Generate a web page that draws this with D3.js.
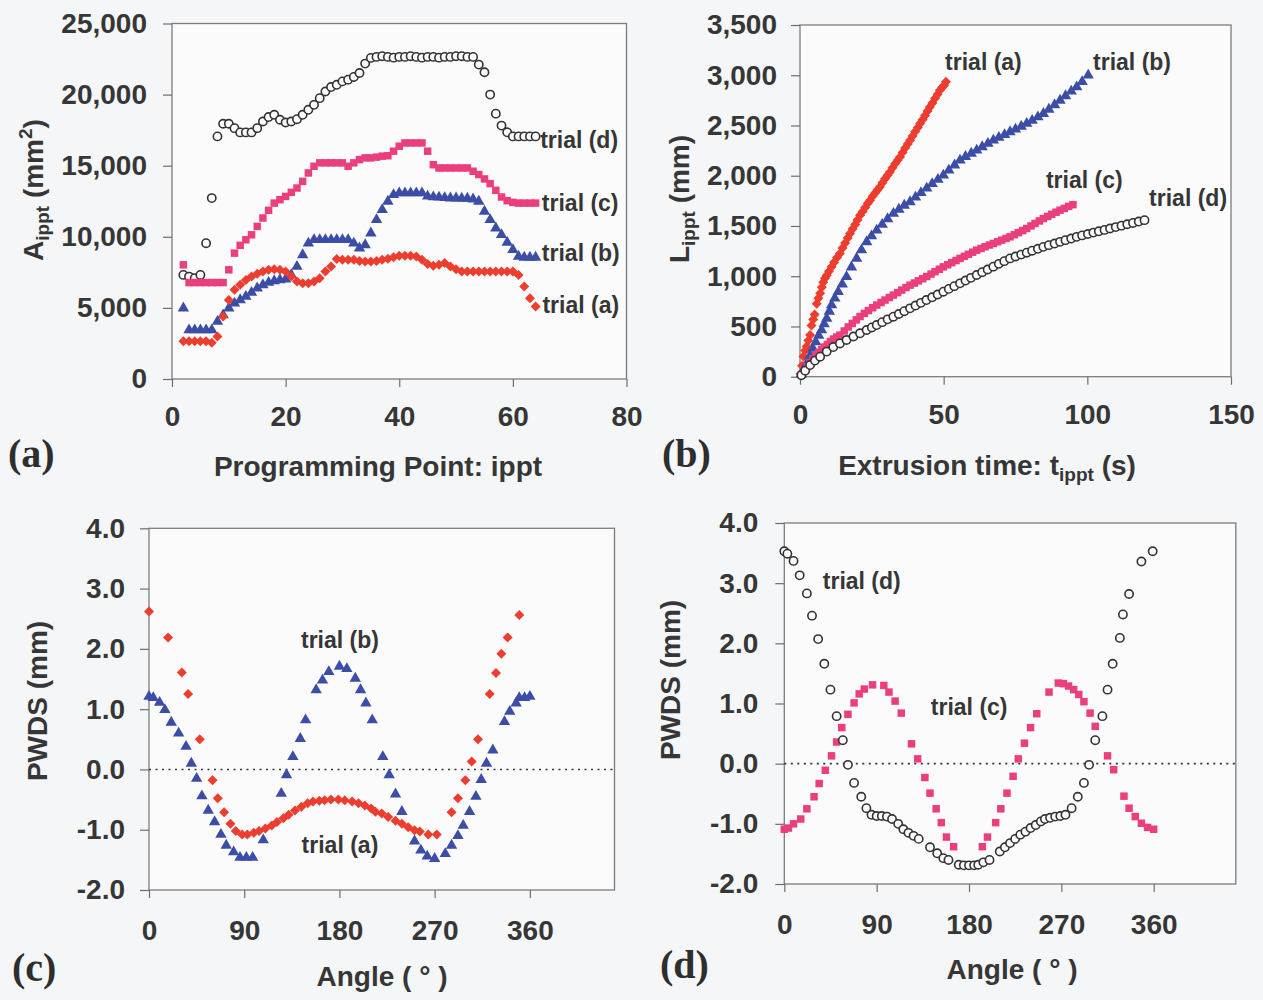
<!DOCTYPE html>
<html>
<head>
<meta charset="utf-8">
<script src="https://cdnjs.cloudflare.com/ajax/libs/d3/7.8.5/d3.min.js"></script>
<style>
  body { margin: 0; background: #f5f6f8; }
  svg { display: block; font-family: "Liberation Sans", Arial, sans-serif; }
</style>
</head>
<body>
<div id="chart"></div>
<script>
// ---- panel (a): area vs programming point ----
const ippt = [2,3,4,5,6,7,8,9,10,11,12,13,14,15,16,17,18,19,20,21,22,23,24,25,26,27,28,29,30,31,32,33,
  34,35,36,37,38,39,40,41,42,43,44,45,46,47,48,49,50,51,52,53,54,55,56,57,58,59,60,61,62,63,64];
const areaA = [2650,2650,2650,2650,2650,2550,2980,4400,5560,6270,6620,6970,7200,7400,7560,7680,7720,7680,
  7560,7200,6850,6740,6740,6850,7090,7560,7910,8430,8380,8380,8380,8300,8260,8260,8300,8380,8450,8570,
  8660,8660,8660,8620,8380,8080,7960,8030,8150,7910,7720,7560,7560,7560,7560,7560,7560,7560,7560,7560,
  7560,7320,6500,5680,5090];
const areaB = [4980,3450,3450,3450,3450,3450,4040,4500,4980,5330,5560,5800,6080,6390,6620,6780,6900,6970,
  7020,7320,7910,8730,9550,9790,9790,9790,9790,9790,9790,9790,9550,9200,9430,10260,11200,11900,12490,
  12960,13080,13080,13080,13080,13080,12850,12800,12780,12750,12720,12720,12700,12700,12650,12490,11790,
  11200,10610,10140,9600,9090,8620,8550,8550,8550];
const areaC = [8030,6780,6780,6780,6780,6780,6780,6780,7680,8850,9400,9790,10140,10730,11320,11860,12370,
  12610,12840,13130,13430,13900,14490,14960,15200,15200,15200,15200,15200,14960,15200,15430,15550,15550,
  15600,15670,15700,16020,16370,16600,16600,16600,16600,16020,15070,14840,14840,14840,14840,14840,14840,
  14610,14380,14070,13740,13270,12800,12540,12420,12370,12370,12370,12370];
const areaD = [7320,7200,7090,7320,9550,12720,17060,17950,17950,17640,17340,17340,17340,17640,18110,18420,
  18580,18230,18040,18110,18270,18580,18930,19280,19750,20220,20530,20690,20930,21050,21240,21520,22180,
  22580,22650,22700,22650,22600,22650,22650,22700,22650,22600,22650,22650,22600,22650,22650,22700,22700,
  22650,22650,22110,21570,20000,18660,17820,17350,17060,17060,17060,17060,17060];

// ---- panel (b): length vs extrusion time ----
const timeA = [0.2,0.7,1.2,1.8,2.3,2.9,3.5,4.0,4.6,5.1,5.8,6.4,7.0,7.6,8.1,8.7,9.3,10.1,11.0,11.9,12.9,13.9,
  14.8,15.7,16.6,17.4,18.3,19.2,20.0,20.9,21.8,22.7,23.6,24.4,25.3,26.2,27.0,27.8,28.7,29.6,30.5,31.3,32.2,
  33.1,34.0,34.8,35.7,36.6,37.5,38.3,39.2,40.1,41.0,41.8,42.7,43.5,44.4,45.2,46.1,47.0,47.9,48.7,49.5,50.2,50.8];
const lenA = [30,110,200,260,300,360,414,510,570,620,725,780,830,890,940,980,1010,1050,1094,1140,1185,1227,
  1280,1330,1380,1425,1470,1515,1560,1607,1645,1685,1725,1756,1795,1830,1860,1889,1930,1970,2005,2038,2080,
  2120,2155,2187,2230,2275,2315,2353,2395,2440,2480,2519,2560,2600,2645,2684,2725,2770,2810,2850,2880,2900,2935];
const timeB = [0.5,1.5,2.5,3.5,4.5,5.5,6.5,7.5,8.4,9.3,10.2,11.0,12.1,13.3,14.7,16.2,17.9,19.7,21.4,23.2,24.9,
  26.7,28.6,30.5,32.5,34.4,36.3,38.3,40.2,42.1,44.1,46.0,48.0,49.9,51.8,53.8,55.7,57.6,59.6,61.5,63.4,65.4,
  67.3,69.2,71.2,73.1,75.0,77.0,78.9,80.8,82.8,84.7,86.6,88.6,90.5,92.4,94.4,96.3,98.2,100.3];
const lenB = [25,80,140,210,280,345,410,464,525,580,650,713,780,845,920,994,1090,1177,1260,1342,1400,1458,
  1515,1570,1624,1665,1705,1740,1785,1830,1875,1920,1962,2005,2055,2105,2154,2190,2222,2253,2287,2320,2353,
  2380,2408,2436,2463,2491,2519,2550,2584,2618,2660,2705,2750,2795,2840,2883,2935,3000];
const timeC = [0.5,1.5,2.5,3.5,4.5,5.5,6.5,7.5,8.5,9.5,10.6,11.7,12.8,13.9,15.4,16.8,18.2,19.6,20.9,22.4,23.8,
  25.3,26.7,28.2,29.6,31.1,32.5,34.0,35.4,36.9,38.3,39.8,41.2,42.7,44.1,45.6,47.0,48.5,49.9,51.4,52.8,54.3,
  55.7,57.2,58.6,60.1,61.5,63.0,64.4,65.9,67.3,68.8,70.2,71.7,73.1,74.6,76.0,77.5,78.9,80.4,81.8,83.3,84.7,
  86.2,87.6,89.1,90.5,92.0,93.5,95.0];
const lenC = [20,60,100,140,175,210,240,270,295,320,350,375,395,414,455,495,530,565,599,630,658,686,713,738,
  763,788,812,837,862,887,911,932,954,975,997,1021,1045,1069,1093,1114,1135,1156,1177,1198,1218,1239,1259,
  1276,1293,1310,1326,1343,1359,1376,1392,1413,1434,1454,1475,1500,1525,1550,1574,1595,1616,1637,1657,1675,
  1695,1712];
const timeD = [0.5,1.8,3.5,5.2,7.0,9.3,11.6,13.9,16.2,18.6,20.9,23.2,25.0,26.7,28.6,30.5,32.5,34.4,36.3,38.3,
  40.2,42.1,44.0,46.0,47.9,49.9,51.8,53.7,55.7,57.6,59.5,61.5,63.4,65.3,67.3,69.2,71.1,73.1,75.0,77.0,78.9,
  80.8,82.8,84.7,86.6,88.6,90.5,92.4,94.4,96.3,98.2,100.2,102.1,104.0,106.0,107.9,109.9,111.9,113.9,115.9,
  117.9,119.9];
const lenD = [15,60,116,160,199,250,295,331,365,400,432,465,490,514,543,571,597,624,652,680,708,735,763,790,
  818,846,874,901,929,957,984,1012,1040,1067,1095,1123,1150,1177,1196,1215,1234,1254,1273,1292,1309,1325,
  1342,1359,1375,1392,1406,1420,1434,1447,1461,1475,1489,1503,1517,1530,1544,1558];

// ---- panel (c): PWDS, trials a and b ----
const angC_a = [0,18,31,37,48,60,65,71,77,82,88,93,99,104,110,116,121,127,132,138,144,150,155,161,166,172,179,
  185,192,198,204,210,214,220,226,233,239,245,251,256,264,272,286,292,299,305,311,322,328,333,339,350];
const pwdsC_a = [2.62,2.19,1.61,1.25,0.50,-0.18,-0.48,-0.71,-0.90,-1.02,-1.08,-1.08,-1.05,-1.02,-0.98,-0.93,
  -0.87,-0.81,-0.75,-0.68,-0.62,-0.56,-0.53,-0.52,-0.51,-0.50,-0.50,-0.51,-0.53,-0.56,-0.60,-0.65,-0.70,-0.73,
  -0.79,-0.85,-0.90,-0.96,-1.01,-1.03,-1.08,-1.08,-0.71,-0.48,-0.18,0.13,0.50,1.25,1.60,1.92,2.19,2.56];
const angC_b = [0,4,10,15,21,28,35,40,45,50,56,62,68,73,80,86,92,98,108,125,130,136,143,148,158,164,170,180,
  187,195,200,205,211,221,227,233,239,251,257,263,270,280,286,292,297,303,309,314,319,325,336,341,347,350,355,360];
const pwdsC_b = [1.21,1.19,1.11,0.99,0.78,0.60,0.38,0.10,-0.15,-0.44,-0.68,-0.87,-1.08,-1.26,-1.37,-1.46,-1.46,
  -1.46,-1.17,-0.40,-0.09,0.21,0.51,0.82,1.32,1.48,1.62,1.71,1.67,1.51,1.32,1.10,0.82,0.21,-0.09,-0.41,-0.70,
  -1.19,-1.34,-1.44,-1.48,-1.40,-1.26,-1.10,-0.93,-0.70,-0.45,-0.17,0.10,0.32,0.79,0.96,1.10,1.19,1.19,1.21];

// ---- panel (d): PWDS, trials c and d ----
const angD_c = [0,4,9,16,22,29,34,40,46,51,56,62,68,73,78,86,97,102,108,114,124,130,137,142,148,153,158,165,
  193,198,206,211,217,223,228,234,240,246,258,267,272,277,282,287,292,298,303,315,321,331,336,342,348,354,360];
const pwdsD_c = [-1.09,-1.07,-1.00,-0.92,-0.75,-0.55,-0.33,-0.11,0.13,0.36,0.60,0.82,1.01,1.16,1.24,1.31,1.30,
  1.19,1.04,0.84,0.33,0.08,-0.23,-0.49,-0.75,-0.98,-1.22,-1.38,-1.38,-1.22,-0.98,-0.75,-0.49,-0.21,0.08,0.34,
  0.60,0.83,1.19,1.34,1.33,1.29,1.23,1.15,1.03,0.84,0.62,0.13,-0.10,-0.54,-0.74,-0.88,-0.99,-1.06,-1.09];
const angD_d = [0,3,9,15,22,27,33,39,45,51,57,62,68,75,80,85,90,95,100,105,111,116,121,126,131,142,149,155,160,
  170,175,180,185,189,194,200,210,215,220,225,230,235,240,245,250,254,259,264,269,274,280,286,292,297,303,310,
  315,320,327,330,336,348,359];
const pwdsD_d = [3.53,3.49,3.37,3.13,2.83,2.46,2.07,1.66,1.23,0.79,0.39,-0.02,-0.32,-0.55,-0.74,-0.85,-0.87,
  -0.87,-0.88,-0.92,-1.00,-1.09,-1.15,-1.20,-1.25,-1.39,-1.49,-1.57,-1.60,-1.68,-1.69,-1.69,-1.69,-1.68,-1.64,
  -1.60,-1.46,-1.39,-1.32,-1.25,-1.18,-1.13,-1.07,-1.02,-0.96,-0.92,-0.90,-0.88,-0.87,-0.85,-0.74,-0.55,-0.32,
  -0.02,0.39,0.79,1.23,1.66,2.09,2.48,2.82,3.36,3.53];

const ticksA_x = [0,20,40,60,80], ticksA_y = [0,5000,10000,15000,20000,25000];
const ticksB_x = [0,50,100,150], ticksB_y = [0,500,1000,1500,2000,2500,3000,3500];
const ticksAng = [0,90,180,270,360], ticksPwds = [-2,-1,0,1,2,3,4];

const RED = "#ec3d2f", BLUE = "#3c4da6", PINK = "#ea3f7c", INK = "#363636";

const svg = d3.select("#chart").append("svg").attr("width", 1263).attr("height", 1000);
svg.append("rect").attr("width", 1263).attr("height", 1000).attr("fill", "#f5f6f8");

function makePanel(p) {
  const g = svg.append("g").attr("transform", `translate(${p.left},${p.top})`);
  const x = d3.scaleLinear().domain(p.xDomain).range([0, p.w]);
  const y = d3.scaleLinear().domain(p.yDomain).range([p.h, 0]);
  g.append("rect").attr("width", p.w).attr("height", p.h)
    .attr("fill", "#fbfbfc").attr("stroke", "#7c7c7c").attr("stroke-width", 1.3);
  const xa = g.append("g").attr("transform", `translate(0,${p.h})`)
    .call(d3.axisBottom(x).tickValues(p.xTicks).tickFormat(p.xFormat).tickSize(8).tickPadding(p.xPad));
  const ya = g.append("g")
    .call(d3.axisLeft(y).tickValues(p.yTicks).tickFormat(p.yFormat).tickSize(9).tickPadding(p.yPad));
  [xa, ya].forEach(a => {
    a.attr("font-family", null).attr("font-size", 28).attr("font-weight", "bold");
    a.select(".domain").remove();
    a.selectAll("line").attr("stroke", "#6e6e6e").attr("stroke-width", 1.2);
    a.selectAll("text").attr("fill", INK);
  });
  return { g, x, y };
}

const sym = {
  diamond: d3.symbol().type(d3.symbolSquare).size(50)(),
  square: d3.symbol().type(d3.symbolSquare).size(56)(),
  triangle: d3.symbol().type(d3.symbolTriangle).size(56)(),
  circle: d3.symbol().type(d3.symbolCircle).size(54)()
};
const styles = {
  a: { d: sym.diamond, fill: RED, stroke: "none", rot: 45 },
  b: { d: sym.triangle, fill: BLUE, stroke: "none", rot: 0 },
  c: { d: sym.square, fill: PINK, stroke: "none", rot: 0 },
  d: { d: sym.circle, fill: "#fbfbfc", stroke: "#333", rot: 0 }
};

function drawSeries(P, xs, ys, st) {
  P.g.append("g").selectAll("path")
    .data(xs.map((v, i) => [v, ys[i]]))
    .join("path")
    .attr("transform", d => `translate(${P.x(d[0])},${P.y(d[1])}) rotate(${st.rot})`)
    .attr("d", st.d)
    .attr("fill", st.fill)
    .attr("stroke", st.stroke)
    .attr("stroke-width", 1.6);
}

function label(P, txt, xv, yv, anchor) {
  P.g.append("text").attr("x", P.x(xv)).attr("y", P.y(yv)).attr("dy", "0.35em")
    .attr("text-anchor", anchor || "start")
    .attr("font-size", 23).attr("font-weight", "bold").attr("fill", INK).text(txt);
}

function zeroLine(P) {
  P.g.append("line").attr("x1", 0).attr("x2", P.x.range()[1])
    .attr("y1", P.y(0)).attr("y2", P.y(0))
    .attr("stroke", "#333").attr("stroke-width", 1.6).attr("stroke-dasharray", "2,4.5");
}

const fmt1 = d => d.toFixed(1);

// panel a
const PA = makePanel({ left: 172, top: 23.5, w: 454.5, h: 355.5, xDomain: [0, 80], yDomain: [0, 25000],
  xTicks: ticksA_x, yTicks: ticksA_y, xFormat: d3.format("d"), yFormat: d3.format(","), xPad: 19, yPad: 16 });
drawSeries(PA, ippt, areaD, styles.d);
drawSeries(PA, ippt, areaC, styles.c);
drawSeries(PA, ippt, areaB, styles.b);
drawSeries(PA, ippt, areaA, styles.a);
label(PA, "trial (d)", 64.8, 16830);
label(PA, "trial (c)", 65.1, 12390);
label(PA, "trial (b)", 65.1, 8870);
label(PA, "trial (a)", 65.2, 5210);

// panel b
const PB = makePanel({ left: 800, top: 25, w: 431, h: 351.7, xDomain: [0, 150], yDomain: [0, 3500],
  xTicks: ticksB_x, yTicks: ticksB_y, xFormat: d3.format("d"), yFormat: d3.format(","), xPad: 19, yPad: 14 });
drawSeries(PB, timeA, lenA, styles.a);
drawSeries(PB, timeB, lenB, styles.b);
drawSeries(PB, timeC, lenC, styles.c);
drawSeries(PB, timeD, lenD, styles.d);
label(PB, "trial (a)", 50.5, 3134);
label(PB, "trial (b)", 102, 3134);
label(PB, "trial (c)", 85.6, 1957);
label(PB, "trial (d)", 121.5, 1778);

// panel c
const PC = makePanel({ left: 149, top: 528.3, w: 465.5, h: 361.7, xDomain: [0, 440], yDomain: [-2, 4],
  xTicks: ticksAng, yTicks: ticksPwds, xFormat: d3.format("d"), yFormat: fmt1, xPad: 22, yPad: 15 });
zeroLine(PC);
drawSeries(PC, angC_b, pwdsC_b, styles.b);
drawSeries(PC, angC_a, pwdsC_a, styles.a);
label(PC, "trial (b)", 180.5, 2.14, "middle");
label(PC, "trial (a)", 180.5, -1.26, "middle");

// panel d
const PD = makePanel({ left: 784.3, top: 523, w: 451.5, h: 361, xDomain: [0, 440], yDomain: [-2, 4],
  xTicks: ticksAng, yTicks: ticksPwds, xFormat: d3.format("d"), yFormat: fmt1, xPad: 22, yPad: 17 });
zeroLine(PD);
drawSeries(PD, angD_c, pwdsD_c, styles.c);
drawSeries(PD, angD_d, pwdsD_d, styles.d);
label(PD, "trial (d)", 37.5, 3.03);
label(PD, "trial (c)", 142.8, 0.95);

// axis titles
function title(x, y, rot) {
  const t = svg.append("text").attr("font-size", 28).attr("font-weight", "bold").attr("fill", INK)
    .attr("text-anchor", "middle")
    .attr("transform", `translate(${x},${y})` + (rot ? " rotate(-90)" : ""));
  return t;
}
let t = title(43, 190, true);
t.append("tspan").text("A");
t.append("tspan").attr("font-size", 19).attr("dy", 6).text("ippt");
t.append("tspan").attr("dy", -6).text(" (mm");
t.append("tspan").attr("font-size", 19).attr("dy", -11).text("2");
t.append("tspan").attr("dy", 11).text(")");

t = title(689, 199, true);
t.append("tspan").text("L");
t.append("tspan").attr("font-size", 19).attr("dy", 6).text("ippt");
t.append("tspan").attr("dy", -6).text(" (mm)");

title(47, 701, true).text("PWDS (mm)");
title(680, 680, true).text("PWDS (mm)");

title(378, 476, false).text("Programming Point: ippt");
t = title(987, 475, false);
t.append("tspan").text("Extrusion time: t");
t.append("tspan").attr("font-size", 19).attr("dy", 6).text("ippt");
t.append("tspan").attr("dy", -6).text(" (s)");

title(382, 986, false).text("Angle ( \u00B0 )");
title(1012, 979, false).text("Angle ( \u00B0 )");

// panel letters
[["(a)", 8, 467], ["(b)", 662, 467], ["(c)", 12, 981], ["(d)", 660, 978]].forEach(d => {
  svg.append("text").attr("x", d[1]).attr("y", d[2])
    .attr("font-family", "'Liberation Serif', 'Times New Roman', serif")
    .attr("font-size", 40).attr("font-weight", "bold").attr("fill", "#2e2e2e").text(d[0]);
});
</script>
</body>
</html>
